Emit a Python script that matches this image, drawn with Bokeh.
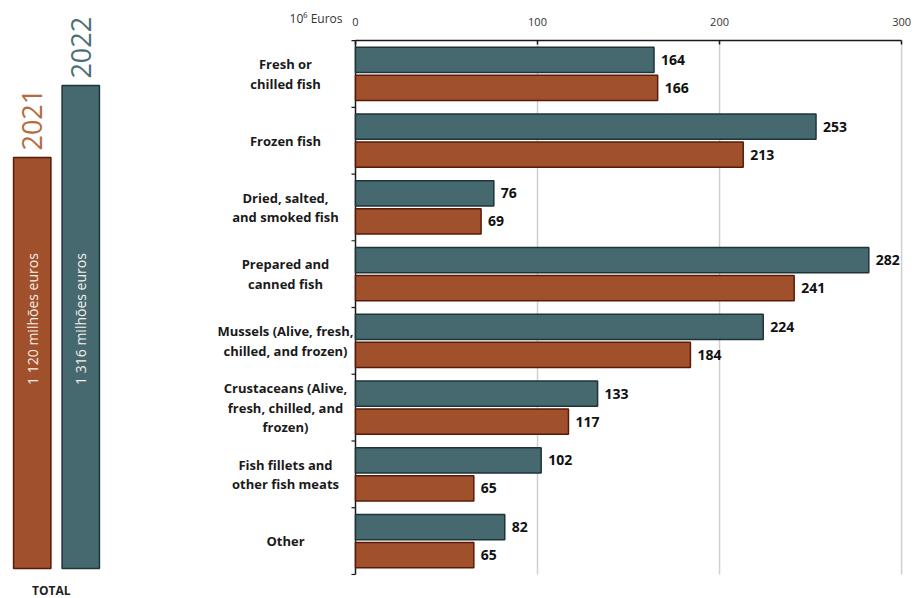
from math import pi

from bokeh.core.properties import value
from bokeh.embed import file_html
from bokeh.layouts import row
from bokeh.models import (ColumnDataSource, FactorRange, FixedTicker,
                          LinearAxis, Range1d)
from bokeh.plotting import figure
from bokeh.resources import INLINE

# ---- data -------------------------------------------------------------
categories = [
    "Fresh or\nchilled fish",
    "Frozen fish",
    "Dried, salted,\nand smoked fish",
    "Prepared and\ncanned fish",
    "Mussels (Alive, fresh,\nchilled, and frozen)",
    "Crustaceans (Alive,\nfresh, chilled, and\nfrozen)",
    "Fish fillets and\nother fish meats",
    "Other",
]
values_2022 = [164, 253, 76, 282, 224, 133, 102, 82]
values_2021 = [166, 213, 69, 241, 184, 117, 65, 65]

years = ["2021", "2022"]
totals = [1120, 1316]
total_labels = ["1 120 milhões euros", "1 316 milhões euros"]

x_ticks = [0, 100, 200, 300]
unit_label = "10⁶ Euros"

# ---- styling ----------------------------------------------------------
TEAL, TEAL_EDGE = "#466970", "#1d3439"
RUST, RUST_EDGE = "#a0512b", "#5a1a08"
INK = "#1a1a1a"
FONT = value("Open Sans")

# ---- left panel: yearly totals ---------------------------------------
left = figure(
    width=112, height=598,
    x_range=FactorRange(factors=years, factor_padding=0,
                        range_padding=0.154, range_padding_units="absolute"),
    y_range=Range1d(-82, 1548),
    x_axis_type=None, y_axis_type=None,
    toolbar_location=None, output_backend="svg", min_border=0,
)
left.outline_line_color = None

tot_src = ColumnDataSource(dict(
    year=years,
    total=totals,
    label=total_labels,
    mid=[max(totals) / 2] * len(totals),
    fill=[RUST, TEAL],
    edge=[RUST_EDGE, TEAL_EDGE],
    ycolor=["#b56b3c", "#4b6f78"],
))
left.vbar(x="year", top="total", bottom=0, width=0.77, source=tot_src,
          fill_color="fill", line_color="edge", line_width=1.5)
left.text(x="year", y="total", text="year", source=tot_src,
          angle=pi / 2, text_align="left", text_baseline="middle",
          y_offset=-7, text_color="ycolor", text_font=FONT,
          text_font_size="27px")
left.text(x="year", y="mid", text="label", source=tot_src,
          angle=pi / 2, text_align="center", text_baseline="middle",
          y_offset=-8, text_color="#f6eee8", text_font=FONT,
          text_font_size="14px")
left.text(x=["2021"], y=[0], text=["TOTAL"], x_offset=19, y_offset=22,
          text_align="center", text_baseline="middle", text_color="#222222",
          text_font=FONT, text_font_style="bold", text_font_size="12px")

# ---- right panel: exports by product ---------------------------------
n = len(categories)
pos = [n - i - 0.5 for i in range(n)]
src = ColumnDataSource(dict(
    cat=categories,
    pos=pos,
    y22=[p + 0.21 for p in pos],
    y21=[p - 0.21 for p in pos],
    v22=values_2022,
    v21=values_2021,
    l22=[str(v) for v in values_2022],
    l21=[str(v) for v in values_2021],
))

right = figure(
    width=802, height=598,
    x_range=Range1d(-133.5, 307.1), y_range=Range1d(-0.36, n + 0.6),
    x_axis_type=None, y_axis_type=None,
    toolbar_location=None, output_backend="svg", min_border=0,
)
right.outline_line_color = None

# vertical guide lines behind the bars
right.segment(x0=x_ticks[1:], x1=x_ticks[1:], y0=0, y1=n,
              line_color="#cfcfcf", line_width=1.5)

# category axis line at zero with short ticks between the groups
boundaries = list(range(n + 1))
right.segment(x0=[0], x1=[0], y0=[0], y1=[n], line_color=INK, line_width=1.5)
right.ray(x=0, y=boundaries, length=4, length_units="screen", angle=pi,
          line_color=INK, line_width=1.2)

right.hbar(y="y22", left=0, right="v22", height=0.38, source=src,
           fill_color=TEAL, line_color=TEAL_EDGE, line_width=1.5)
right.hbar(y="y21", left=0, right="v21", height=0.38, source=src,
           fill_color=RUST, line_color=RUST_EDGE, line_width=1.5)

for xcol, ycol, tcol in (("v22", "y22", "l22"), ("v21", "y21", "l21")):
    right.text(x=xcol, y=ycol, text=tcol, source=src, x_offset=7,
               text_align="left", text_baseline="middle",
               text_color="#111111", text_font=FONT,
               text_font_style="bold", text_font_size="14px")

right.text(x=0, y="pos", text="cat", source=src, x_offset=-70,
           text_align="center", text_baseline="middle",
           text_line_height=1.09, text_color=INK, text_font=FONT,
           text_font_style="bold", text_font_size="13px")

right.text(x=[0], y=[n], text=[unit_label], x_offset=-13, y_offset=-22,
           text_align="right", text_baseline="middle",
           text_color="#333333", text_font=FONT, text_font_size="12px")

# value axis along the top of the bars
xax = LinearAxis(
    fixed_location=n,
    ticker=FixedTicker(ticks=x_ticks),
    bounds=(0, 300),
    axis_line_color=INK, axis_line_width=1.5,
    major_tick_line_color=INK, major_tick_line_width=1.5,
    major_tick_in=4, major_tick_out=0,
    minor_tick_line_color=None,
    major_label_standoff=15,
    major_label_text_font="Open Sans",
    major_label_text_font_size="11px",
    major_label_text_color="#333333",
)
right.add_layout(xax, "above")

layout = row(left, right)
open("out.html", "w").write(file_html(layout, INLINE))
